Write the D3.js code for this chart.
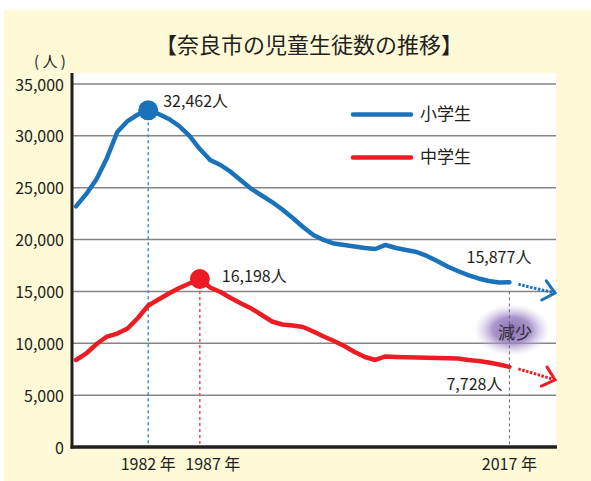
<!DOCTYPE html>
<html lang="ja">
<head>
<meta charset="utf-8">
<script src="https://cdn.jsdelivr.net/npm/d3@7"></script>
<style>
  html, body { margin: 0; padding: 0; background: #fff; }
  svg { display: block; font-family: "Noto Sans CJK JP", "Noto Sans", sans-serif; }
</style>
</head>
<body>
<div id="chart"></div>
<script>
const years = [
  1975, 1976, 1977, 1978, 1979, 1980, 1981, 1982, 1983, 1984,
  1985, 1986, 1987, 1988, 1989, 1990, 1991, 1992, 1993, 1994,
  1995, 1996, 1997, 1998, 1999, 2000, 2001, 2002, 2003, 2004,
  2005, 2006, 2007, 2008, 2009, 2010, 2011, 2012, 2013, 2014,
  2015, 2016, 2017,
];
// 小学生
const elementaryValues = [
  23200, 24400, 25840, 27870, 30370, 31430, 32060, 32462, 32110, 31630,
  30950, 29990, 28730, 27670, 27190, 26520, 25700, 24880, 24250, 23620,
  22900, 22080, 21210, 20440, 19960, 19620, 19480, 19330, 19190, 19090,
  19480, 19190, 19000, 18800, 18420, 17930, 17400, 16970, 16580, 16250,
  16010, 15860, 15877,
];
// 中学生
const juniorValues = [
  8390, 9020, 9930, 10650, 10940, 11430, 12440, 13640, 14220, 14800,
  15330, 15770, 16198, 15380, 14950, 14370, 13840, 13350, 12730, 12100,
  11810, 11720, 11570, 11140, 10650, 10220, 9740, 9160, 8680, 8390,
  8730, 8680, 8650, 8630, 8600, 8580, 8560, 8530, 8390, 8290,
  8150, 7950, 7728,
];
const seriesNames = ["小学生", "中学生"];
const seriesColors = ["#1a72ba", "#ec1c24"];
const trendEndValues = [14850, 6480];
const yTicks = [0, 5000, 10000, 15000, 20000, 25000, 30000, 35000];
const peakYears = [1982, 1987];
const lastYear = 2017;
const xLabels = ["1982 年", "1987 年", "2017 年"];
const xLabelYears = [1982, 1987, 2017];

const width = 591;
const height = 481;
const plot = { left: 72, right: 556, top: 73, bottom: 447 };

const x = d3.scaleLinear().domain([1975, 2017]).range([76, 509.4]);
const y = d3.scaleLinear().domain([0, 35000]).range([447, 84]);
const fmt = d3.format(",");

const series = [elementaryValues, juniorValues].map((values, i) => ({
  name: seriesNames[i],
  color: seriesColors[i],
  trendEnd: trendEndValues[i],
  peakYear: peakYears[i],
  points: years.map((yr, j) => ({ year: yr, value: values[j] })),
}));

const svg = d3
  .select("#chart")
  .append("svg")
  .attr("width", width)
  .attr("height", height);

const defs = svg.append("defs");
const glow = defs
  .append("radialGradient")
  .attr("id", "glow");
glow.append("stop").attr("offset", "0%").attr("stop-color", "#8a6db8").attr("stop-opacity", 1);
glow.append("stop").attr("offset", "50%").attr("stop-color", "#9a82c3").attr("stop-opacity", 0.85);
glow.append("stop").attr("offset", "100%").attr("stop-color", "#cfc3e3").attr("stop-opacity", 0);

// cream panel + white plot area
svg
  .append("rect")
  .attr("x", 4)
  .attr("y", 10)
  .attr("width", width - 4)
  .attr("height", height - 10)
  .attr("fill", "#fef9d7");

svg
  .append("rect")
  .attr("x", plot.left)
  .attr("y", plot.top)
  .attr("width", plot.right - plot.left)
  .attr("height", plot.bottom - plot.top)
  .attr("fill", "#fff");

svg
  .append("text")
  .attr("x", 309)
  .attr("y", 53)
  .attr("text-anchor", "middle")
  .attr("font-size", 22)
  .attr("fill", "#231f20")
  .text("【奈良市の児童生徒数の推移】");

svg
  .append("text")
  .attr("x", 50)
  .attr("y", 67)
  .attr("text-anchor", "middle")
  .attr("font-size", 15)
  .attr("fill", "#231f20")
  .attr("xml:space", "preserve")
  .text("( 人 )");

// grid
svg
  .append("g")
  .attr("class", "grid")
  .selectAll("line")
  .data(yTicks.filter((d) => d > 0))
  .join("line")
  .attr("x1", plot.left)
  .attr("x2", plot.right)
  .attr("y1", (d) => y(d))
  .attr("y2", (d) => y(d))
  .attr("stroke", "#858585")
  .attr("stroke-width", 1.5);

// y tick labels
svg
  .append("g")
  .attr("class", "y-labels")
  .attr("text-anchor", "end")
  .attr("font-size", 16)
  .attr("fill", "#231f20")
  .selectAll("text")
  .data(yTicks)
  .join("text")
  .attr("x", 64)
  .attr("y", (d) => y(d) + 1)
  .attr("dy", "0.35em")
  .text((d) => fmt(d));

// glow behind 減少
svg
  .append("ellipse")
  .attr("cx", 512)
  .attr("cy", 330)
  .attr("rx", 38)
  .attr("ry", 26)
  .attr("fill", "url(#glow)");

// vertical guide lines
svg
  .append("g")
  .attr("class", "guides")
  .selectAll("line")
  .data(series)
  .join("line")
  .attr("x1", (d) => x(d.peakYear))
  .attr("x2", (d) => x(d.peakYear))
  .attr("y1", (d) => y(d.points.find((p) => p.year === d.peakYear).value))
  .attr("y2", plot.bottom)
  .attr("stroke", (d) => (d.name === "小学生" ? "#3b93d6" : "#ef4a50"))
  .attr("stroke-width", 1.5)
  .attr("stroke-dasharray", "3,3");

svg
  .append("line")
  .attr("x1", x(lastYear))
  .attr("x2", x(lastYear))
  .attr("y1", y(elementaryValues[elementaryValues.length - 1]) + 9)
  .attr("y2", plot.bottom)
  .attr("stroke", "#666")
  .attr("stroke-width", 1)
  .attr("stroke-dasharray", "3,3");

// lines
const line = d3
  .line()
  .x((d) => x(d.year))
  .y((d) => y(d.value));

svg
  .append("g")
  .attr("class", "lines")
  .selectAll("path")
  .data(series)
  .join("path")
  .attr("d", (d) => line(d.points))
  .attr("fill", "none")
  .attr("stroke", (d) => d.color)
  .attr("stroke-width", 4.5)
  .attr("stroke-linejoin", "round")
  .attr("stroke-linecap", "round");

// trend arrows after the last year
svg
  .append("g")
  .attr("class", "arrows")
  .selectAll("g")
  .data(series)
  .join("g")
  .each(function (d) {
    const last = d.points[d.points.length - 1];
    const x0 = x(last.year) + 9;
    const y0 = y(last.value) + 2;
    const x1 = plot.right - 1;
    const y1 = y(d.trendEnd);
    const a = Math.atan2(y1 - y0, x1 - x0);
    const g = d3.select(this);
    g.append("line")
      .attr("x1", x0)
      .attr("y1", y0)
      .attr("x2", x1 - 2 * Math.cos(a))
      .attr("y2", y1 - 2 * Math.sin(a))
      .attr("stroke", d.color)
      .attr("stroke-width", 3)
      .attr("stroke-dasharray", "2.5,1.5");
    const arm = 15;
    const spread = 0.72;
    g.append("polyline")
      .attr("points", [
        [x1 - arm * Math.cos(a - spread), y1 - arm * Math.sin(a - spread)],
        [x1, y1],
        [x1 - arm * Math.cos(a + spread), y1 - arm * Math.sin(a + spread)],
      ])
      .attr("fill", "none")
      .attr("stroke", d.color)
      .attr("stroke-width", 3)
      .attr("stroke-linecap", "round")
      .attr("stroke-linejoin", "miter");
  });

// peak dots
svg
  .append("g")
  .attr("class", "peaks")
  .selectAll("circle")
  .data(series)
  .join("circle")
  .attr("cx", (d) => x(d.peakYear))
  .attr("cy", (d) => y(d.points.find((p) => p.year === d.peakYear).value))
  .attr("r", 10)
  .attr("fill", (d) => d.color);

// axes
svg
  .append("line")
  .attr("x1", plot.left)
  .attr("x2", plot.left)
  .attr("y1", plot.top)
  .attr("y2", plot.bottom + 1.5)
  .attr("stroke", "#231f20")
  .attr("stroke-width", 3);

svg
  .append("line")
  .attr("x1", plot.left - 1.5)
  .attr("x2", plot.right + 1)
  .attr("y1", plot.bottom)
  .attr("y2", plot.bottom)
  .attr("stroke", "#231f20")
  .attr("stroke-width", 3.5);

// value labels
const valueLabels = [
  { year: 1982, value: elementaryValues[7], dx: 15, dy: -3, anchor: "start" },
  { year: 1987, value: juniorValues[12], dx: 22, dy: 3, anchor: "start" },
  { year: 2017, value: elementaryValues[42], dx: 22, dy: -19, anchor: "end" },
  { year: 2017, value: juniorValues[42], dx: -7, dy: 23, anchor: "end" },
];

svg
  .append("g")
  .attr("class", "value-labels")
  .attr("font-size", 16)
  .attr("fill", "#231f20")
  .selectAll("text")
  .data(valueLabels)
  .join("text")
  .attr("x", (d) => x(d.year) + d.dx)
  .attr("y", (d) => y(d.value) + d.dy)
  .attr("text-anchor", (d) => d.anchor)
  .text((d) => `${fmt(d.value)}人`);

svg
  .append("text")
  .attr("x", 515)
  .attr("y", 333)
  .attr("dy", "0.35em")
  .attr("text-anchor", "middle")
  .attr("font-size", 17)
  .attr("fill", "#333")
  .text("減少");

// legend
const legend = svg
  .append("g")
  .attr("class", "legend")
  .selectAll("g")
  .data(series)
  .join("g")
  .attr("transform", (d, i) => `translate(353,${114.5 + i * 43})`);

legend
  .append("line")
  .attr("x1", 0)
  .attr("x2", 58)
  .attr("stroke", (d) => d.color)
  .attr("stroke-width", 4.5)
  .attr("stroke-linecap", "round");

legend
  .append("text")
  .attr("x", 67)
  .attr("dy", "0.35em")
  .attr("font-size", 17)
  .attr("fill", "#231f20")
  .text((d) => d.name);

// x labels
const xLabelShift = [0, 13, 0];
svg
  .append("g")
  .attr("class", "x-labels")
  .attr("text-anchor", "middle")
  .attr("font-size", 16)
  .attr("fill", "#231f20")
  .selectAll("text")
  .data(xLabels)
  .join("text")
  .attr("x", (d, i) => x(xLabelYears[i]) + xLabelShift[i])
  .attr("y", 470)
  .text((d) => d);
</script>
</body>
</html>
